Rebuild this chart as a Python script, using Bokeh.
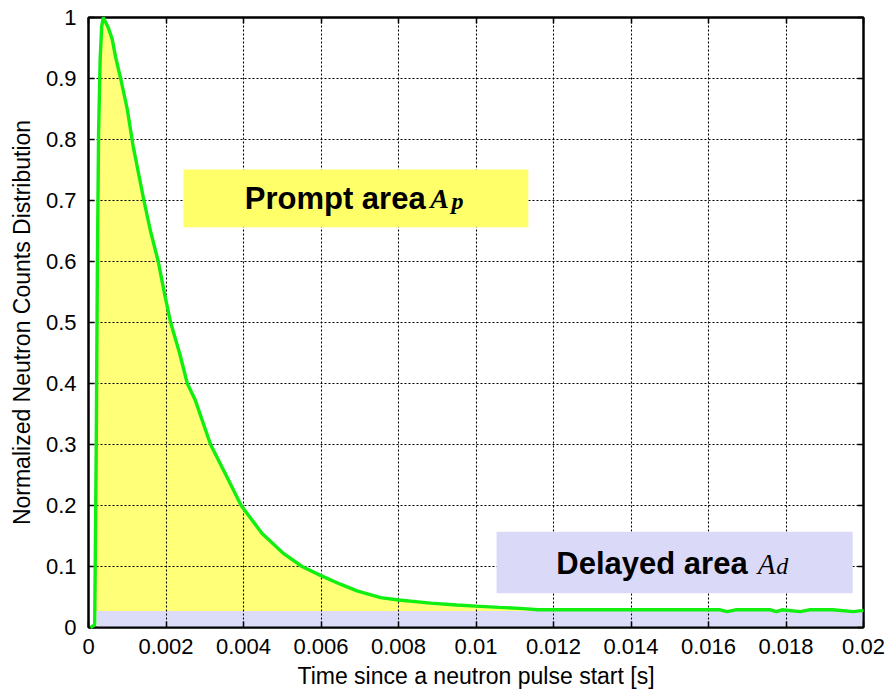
import numpy as np
from bokeh.plotting import figure
from bokeh.models import (Range1d, FixedTicker, LinearAxis, Label, BoxAnnotation)
from bokeh.embed import file_html
from bokeh.resources import INLINE

# Measured neutron count distribution after a pulse (normalized to its peak)
time_s = [0.00005, 0.00016, 0.00020, 0.00023, 0.00026, 0.00030, 0.00034, 0.00038,
          0.00050, 0.00061, 0.00070, 0.00083, 0.00100, 0.00115, 0.00143, 0.00160,
          0.00180, 0.00197, 0.00212, 0.00235, 0.00255, 0.00276, 0.00315, 0.00358,
          0.00394, 0.00448, 0.00504, 0.00551, 0.00600, 0.00650, 0.00693, 0.00754,
          0.00800, 0.00883, 0.00950, 0.01000, 0.01060, 0.01123, 0.01160, 0.01250,
          0.01350, 0.01450, 0.01550, 0.01630, 0.01648, 0.01670, 0.01720, 0.01760,
          0.01775, 0.01790, 0.01837, 0.01860, 0.01920, 0.01974, 0.02000]
counts = [0.0, 0.004, 0.30, 0.60, 0.81, 0.93, 0.985, 1.0,
          0.985, 0.965, 0.935, 0.90, 0.85, 0.79, 0.70, 0.65,
          0.60, 0.545, 0.50, 0.45, 0.40, 0.372, 0.30, 0.246,
          0.20, 0.154, 0.121, 0.10, 0.085, 0.071, 0.060, 0.049,
          0.045, 0.040, 0.037, 0.035, 0.033, 0.031, 0.029, 0.029,
          0.029, 0.029, 0.029, 0.029, 0.026, 0.029, 0.029, 0.029,
          0.026, 0.029, 0.026, 0.029, 0.029, 0.026, 0.028]

# Delayed-neutron background level and the time the pulse begins
delayed_level = 0.027
pulse_start = 0.00022

x_ticks = [0, 0.002, 0.004, 0.006, 0.008, 0.01, 0.012, 0.014, 0.016, 0.018, 0.02]
x_tick_labels = ["0", "0.002", "0.004", "0.006", "0.008", "0.01", "0.012",
                 "0.014", "0.016", "0.018", "0.02"]
y_ticks = [0, 0.1, 0.2, 0.3, 0.4, 0.5, 0.6, 0.7, 0.8, 0.9, 1]
y_tick_labels = ["0", "0.1", "0.2", "0.3", "0.4", "0.5", "0.6", "0.7", "0.8", "0.9", "1"]

FONT = "Liberation Sans"
SERIF = "Liberation Serif"
YELLOW = "#FFFF78"
LAVENDER = "#DCDCF8"

t = np.array(time_s)
c = np.array(counts)

p = figure(width=889, height=694, output_backend="svg", toolbar_location=None,
           x_range=Range1d(0, 0.02), y_range=Range1d(0, 1),
           min_border_left=88, min_border_right=26, min_border_top=17,
           min_border_bottom=67)
p.background_fill_color = "white"
p.border_fill_color = "white"
p.outline_line_color = "black"
p.outline_line_width = 2

# Prompt area: between curve and the delayed background
mask = t >= 0.00015
p.varea(x=t[mask], y1=delayed_level, y2=np.maximum(c[mask], delayed_level),
        fill_color=YELLOW, fill_alpha=1.0)
# Delayed area: the constant background under the whole pulse
dmask = t >= pulse_start
p.varea(x=np.concatenate([[pulse_start], t[dmask]]), y1=0,
        y2=delayed_level, fill_color=LAVENDER, fill_alpha=1.0)

line = p.line(t, c, line_color="#11EE11", line_width=3.4)
line.level = "annotation"

# Axes
for ax in (p.xaxis[0], p.yaxis[0]):
    ax.major_tick_in = 6
    ax.major_tick_out = 0
    ax.minor_tick_line_color = None
    ax.axis_line_color = "black"
    ax.axis_line_width = 2
    ax.major_tick_line_width = 1.5
    ax.major_label_text_font = FONT
    ax.major_label_text_font_size = "22px"
    ax.major_label_text_color = "black"
    ax.axis_label_text_font = FONT
    ax.axis_label_text_font_size = "23px"
    ax.axis_label_text_font_style = "normal"
    ax.axis_label_text_color = "black"

p.xaxis.ticker = FixedTicker(ticks=x_ticks)
p.xaxis.major_label_overrides = dict(zip(x_ticks, x_tick_labels))
p.yaxis.ticker = FixedTicker(ticks=y_ticks)
p.yaxis.major_label_overrides = dict(zip(y_ticks, y_tick_labels))
p.xaxis.axis_label = "Time since a neutron pulse start [s]"
p.yaxis.axis_label = "Normalized Neutron Counts Distribution"
p.xaxis.major_label_standoff = 11
p.xaxis.axis_label_standoff = 6
p.yaxis.major_label_standoff = 12
p.yaxis.axis_label_standoff = 8

# Mirror ticks on top and right, without labels
top = LinearAxis(ticker=FixedTicker(ticks=x_ticks), major_tick_in=6, major_tick_out=0,
                 minor_tick_line_color=None,
                 major_label_overrides={v: "" for v in x_ticks},
                 major_label_standoff=0, axis_line_width=2, major_tick_line_width=1.5)
right = LinearAxis(ticker=FixedTicker(ticks=y_ticks), major_tick_in=6, major_tick_out=0,
                   minor_tick_line_color=None,
                   major_label_overrides={v: "" for v in y_ticks},
                   major_label_standoff=0, axis_line_width=2, major_tick_line_width=1.5)
p.add_layout(top, "above")
p.add_layout(right, "right")

# Dotted grid drawn over the filled areas
for g in (p.xgrid[0], p.ygrid[0]):
    g.grid_line_color = "black"
    g.grid_line_dash = "2 2"
    g.grid_line_width = 1.1
    g.level = "guide"
p.xgrid.ticker = FixedTicker(ticks=x_ticks)
p.ygrid.ticker = FixedTicker(ticks=y_ticks)

# Annotation boxes
p.add_layout(BoxAnnotation(left=0.00245, right=0.01135, bottom=0.656, top=0.751,
                           fill_color="#FFFF6A", fill_alpha=1.0, line_color=None))
p.add_layout(BoxAnnotation(left=0.01053, right=0.01972, bottom=0.056, top=0.157,
                           fill_color="#DADAF8", fill_alpha=1.0, line_color=None))

p.add_layout(Label(x=0.00870, y=0.7031, text="Prompt area", text_align="right",
                   text_baseline="alphabetic", text_font=FONT, text_font_style="bold",
                   text_font_size="31px", text_color="black"))
p.add_layout(Label(x=0.00882, y=0.7031, text="A", text_align="left",
                   text_baseline="alphabetic", text_font=SERIF,
                   text_font_style="bold italic", text_font_size="28px",
                   text_color="black"))
p.add_layout(Label(x=0.00937, y=0.6995, text="p", text_align="left",
                   text_baseline="alphabetic", text_font=SERIF,
                   text_font_style="bold italic", text_font_size="24px",
                   text_color="black"))

p.add_layout(Label(x=0.01701, y=0.1047, text="Delayed area", text_align="right",
                   text_baseline="alphabetic", text_font=FONT, text_font_style="bold",
                   text_font_size="31px", text_color="black"))
p.add_layout(Label(x=0.01727, y=0.1047, text="A", text_align="left",
                   text_baseline="alphabetic", text_font=SERIF,
                   text_font_style="italic", text_font_size="29px",
                   text_color="black"))
p.add_layout(Label(x=0.01775, y=0.1005, text="d", text_align="left",
                   text_baseline="alphabetic", text_font=SERIF,
                   text_font_style="italic", text_font_size="24px",
                   text_color="black"))

open("out.html", "w").write(file_html(p, INLINE))
